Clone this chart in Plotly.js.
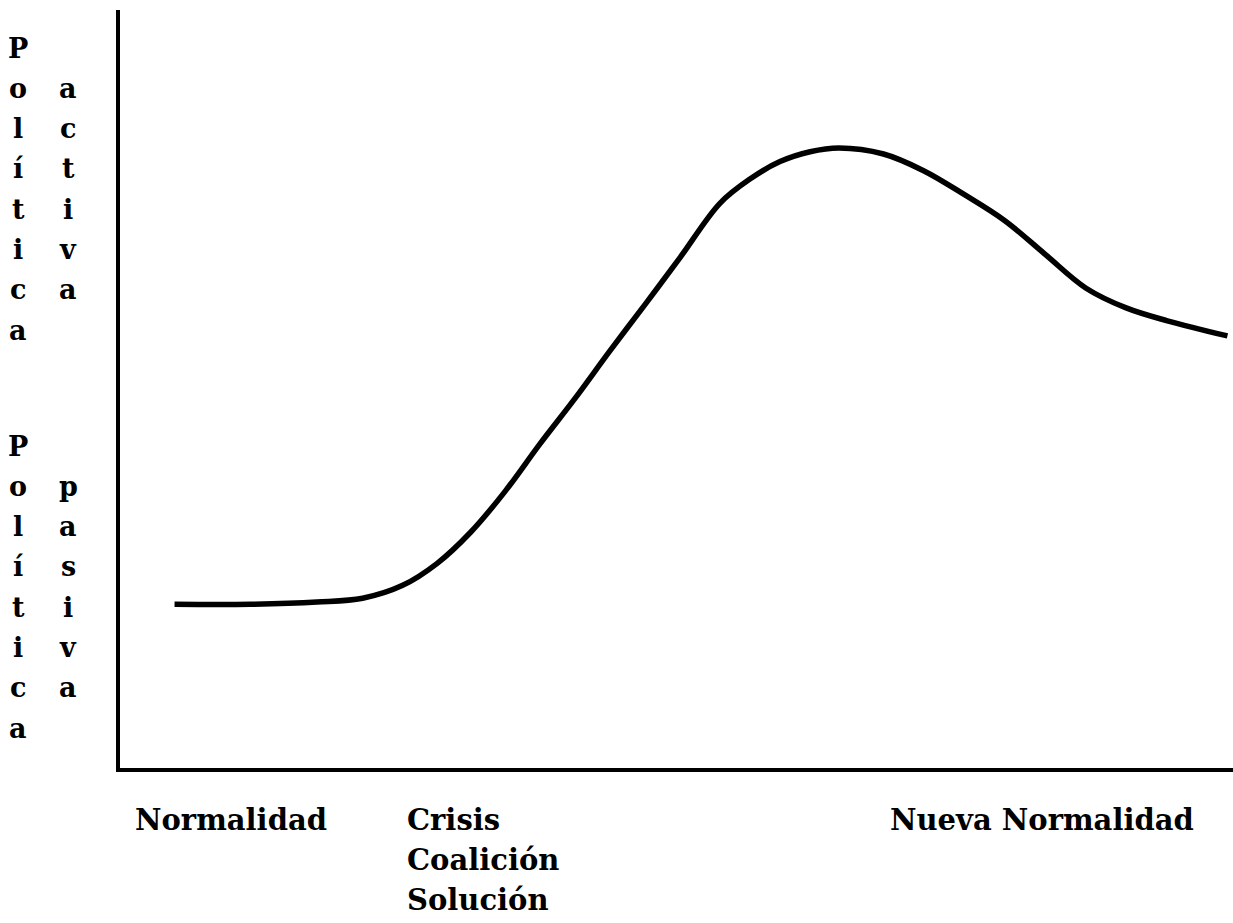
<!DOCTYPE html>
<html>
<head>
<meta charset="utf-8">
<script src="https://cdn.plot.ly/plotly-3.0.1.min.js"></script>
<style>
html, body { margin: 0; padding: 0; background: #ffffff; }
#chart { width: 1233px; height: 923px; }
</style>
</head>
<body>
<div id="chart"></div>
<script>
// ---- data ----
const tiempo = [4.9, 11.7, 17.7, 21.8, 25.4, 28.5, 31.5, 34.6, 37.7, 40.9, 44.0, 47.2, 50.3, 53.9, 56.6, 59.3, 62.0, 64.6, 68.6, 72.2, 75.8, 79.5, 83.1, 86.8, 90.4, 94.1, 99.5];
const politica = [21.6, 21.6, 21.9, 22.4, 24.1, 27.0, 31.1, 36.5, 42.7, 48.8, 55.0, 61.2, 67.3, 74.5, 77.7, 80.0, 81.3, 81.8, 81.0, 78.8, 75.7, 72.2, 67.8, 63.3, 60.7, 59.0, 57.0];

const fasesTexto = ["Normalidad", "Crisis<br>Coalición<br>Solución", "Nueva Normalidad"];
const fasesX = [1.2, 25.6, 69.0];

const palabraPolitica = "Política";
const palabraActiva = "activa";
const palabraPasiva = "pasiva";

// ---- layout constants ----
const W = 1233, H = 923;
const M = {l: 120, r: 0, t: 10, b: 155};
const plotW = W - M.l - M.r, plotH = H - M.t - M.b;
const pxToPaperX = px => (px - M.l) / plotW;
const pxToPaperY = py => (H - M.b - py) / plotH;

const serif = "DejaVu Serif, Liberation Serif, serif";
const annotations = [];

// vertical stacked letters
function addColumn(word, colX, firstCenterY, startRow) {
  const step = 40.3;
  Array.from(word).forEach((ch, i) => {
    annotations.push({
      xref: "paper", yref: "paper",
      x: pxToPaperX(colX), y: pxToPaperY(firstCenterY + (startRow + i) * step),
      xanchor: "center", yanchor: "middle",
      text: ch, showarrow: false,
      font: {family: serif, size: 27, color: "#000", weight: "bold"}
    });
  });
}
addColumn(palabraPolitica, 18, 48, 0);
addColumn(palabraActiva, 68, 48, 1);
addColumn(palabraPolitica, 18, 446, 0);
addColumn(palabraPasiva, 68, 446, 1);

// phase labels under the x axis
fasesTexto.forEach((t, i) => {
  const lines = t.split("<br>");
  lines.forEach((ln, j) => {
    annotations.push({
      xref: "x", yref: "paper",
      x: fasesX[i], y: pxToPaperY(820 + j * 40),
      xanchor: "left", yanchor: "middle",
      text: ln, showarrow: false,
      font: {family: serif, size: 29, color: "#000", weight: "bold"}
    });
  });
});

const trace = {
  x: tiempo, y: politica,
  type: "scatter", mode: "lines",
  line: {color: "#000", width: 5.5, shape: "spline", smoothing: 1.0},
  hoverinfo: "skip"
};

const layout = {
  width: W, height: H,
  margin: M,
  paper_bgcolor: "#ffffff", plot_bgcolor: "#ffffff",
  showlegend: false,
  xaxis: {range: [0, 100], showline: true, linewidth: 4, linecolor: "#000",
          showgrid: false, zeroline: false, showticklabels: false, ticks: ""},
  yaxis: {range: [0, 100], showline: true, linewidth: 4, linecolor: "#000",
          showgrid: false, zeroline: false, showticklabels: false, ticks: ""},
  annotations: annotations
};

Plotly.newPlot("chart", [trace], layout, {staticPlot: true, displayModeBar: false});
</script>
</body>
</html>
